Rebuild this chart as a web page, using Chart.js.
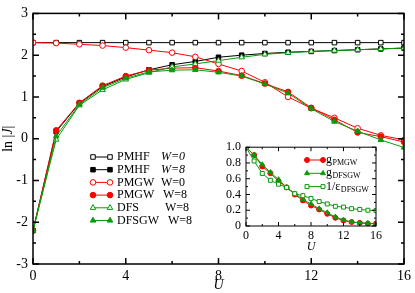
<!DOCTYPE html>
<html>
<head>
<meta charset="utf-8">
<script src="https://cdn.jsdelivr.net/npm/chart.js@4.4.1/dist/chart.umd.min.js"></script>
<style>
  html, body { margin: 0; padding: 0; background: #fff; }
  #wrap { position: relative; width: 415px; height: 293px; overflow: hidden; }
  #main { position: absolute; left: 0; top: 0; }
  #inset { position: absolute; left: 205px; top: 135px; }
</style>
</head>
<body>
<div id="wrap">
  <canvas id="main" width="415" height="293"></canvas>
  <canvas id="inset" width="180" height="120"></canvas>
</div>
<script>
/* ── Data ── */
const U = [0, 1, 2, 3, 4, 5, 6, 7, 8, 9, 10, 11, 12, 13, 14, 15, 16];
const xTicks = [0, 4, 8, 12, 16];
const yTicks = [-3, -2, -1, 0, 1, 2, 3];

const pmhfW0  = [2.30, 2.30, 2.30, 2.30, 2.30, 2.30, 2.30, 2.30, 2.30, 2.30, 2.30, 2.30, 2.30, 2.30, 2.30, 2.30, 2.30];
const pmhfW8  = [-2.2, 0.17, 0.85, 1.25, 1.48, 1.65, 1.77, 1.85, 1.95, 2.00, 2.04, 2.07, 2.09, 2.11, 2.13, 2.15, 2.17];
const pmgwW0  = [2.30, 2.29, 2.26, 2.23, 2.18, 2.12, 2.06, 1.96, 1.79, 1.62, 1.35, 1.00, 0.73, 0.50, 0.25, 0.08, -0.03];
const pmgwW8  = [-2.2, 0.20, 0.86, 1.27, 1.50, 1.64, 1.69, 1.70, 1.62, 1.51, 1.32, 1.12, 0.74, 0.45, 0.15, 0.05, -0.08];
const dfsW8   = [-2.2, -0.02, 0.80, 1.17, 1.42, 1.58, 1.72, 1.79, 1.87, 1.95, 2.02, 2.06, 2.09, 2.11, 2.13, 2.15, 2.17];
const dfsgwW8 = [-2.2, 0.06, 0.82, 1.22, 1.45, 1.60, 1.64, 1.65, 1.59, 1.50, 1.31, 1.09, 0.72, 0.41, 0.18, -0.03, -0.21];

// inset
const insetXTicks = [0, 4, 8, 12, 16];
const insetYTicks = [0, 0.2, 0.4, 0.6, 0.8, 1];
const gPMGW   = [1, 0.90, 0.756, 0.67, 0.57, 0.49, 0.40, 0.325, 0.26, 0.21, 0.155, 0.105, 0.07, 0.05, 0.04, 0.03, 0.03];
const gDFSGW  = [1, 0.90, 0.78, 0.68, 0.59, 0.49, 0.41, 0.34, 0.28, 0.22, 0.17, 0.115, 0.075, 0.05, 0.04, 0.035, 0.03];
const invEps  = [1, 0.825, 0.667, 0.58, 0.53, 0.49, 0.41, 0.385, 0.35, 0.31, 0.28, 0.25, 0.24, 0.22, 0.21, 0.20, 0.195];

const RED = "#ff0000", GREEN = "#0b9a0b", BLACK = "#000000";
const SERIF = "'Liberation Serif', 'DejaVu Serif', serif";

/* ── Helpers ── */
const pts = ys => ys.map((y, i) => ({ x: U[i], y }));

function series(data, color, style, filled, r, order) {
  return {
    data: pts(data), borderColor: color, borderWidth: 1,
    pointStyle: style, pointRadius: r, pointHoverRadius: r,
    pointBorderColor: color, pointBorderWidth: 1,
    pointBackgroundColor: filled ? color : "#fff",
    tension: 0, order,
  };
}

function marker(ctx, ds, x, y) {
  ctx.fillStyle = ds.pointBackgroundColor;
  ctx.strokeStyle = ds.pointBorderColor;
  ctx.lineWidth = 1;
  Chart.helpers.drawPoint(ctx, { pointStyle: ds.pointStyle, radius: ds.pointRadius, borderWidth: 1, rotation: 0 }, x, y);
}

function sample(ctx, ds, x0, x1, y) {
  ctx.strokeStyle = ds.borderColor; ctx.lineWidth = 1;
  ctx.beginPath(); ctx.moveTo(x0, y); ctx.lineTo(x1, y); ctx.stroke();
  marker(ctx, ds, x0, y); marker(ctx, ds, x1, y);
}

// frame + inward ticks on all four sides
const frameTicks = {
  id: "frameTicks",
  beforeDatasetsDraw(chart) {
    const { ctx, chartArea: a } = chart;
    ctx.save(); ctx.fillStyle = "#fff";
    ctx.fillRect(a.left, a.top, a.right - a.left, a.bottom - a.top);
    ctx.restore();
  },
  afterDatasetsDraw(chart, args, o) {
    const { ctx, chartArea: a, scales: { x, y } } = chart;
    ctx.save();
    ctx.strokeStyle = "#000"; ctx.lineWidth = o.lw;
    ctx.beginPath();
    const nx = Math.round((x.max - x.min) / o.xMinor);
    for (let i = 0; i <= nx; i++) {
      const v = x.min + i * o.xMinor;
      const len = Math.abs(v / o.xMajor - Math.round(v / o.xMajor)) < 1e-6 ? o.major : o.minor;
      const px = x.getPixelForValue(v);
      ctx.moveTo(px, a.bottom); ctx.lineTo(px, a.bottom - len);
      ctx.moveTo(px, a.top); ctx.lineTo(px, a.top + len);
    }
    const ny = Math.round((y.max - y.min) / o.yMinor);
    for (let i = 0; i <= ny; i++) {
      const v = y.min + i * o.yMinor;
      const len = Math.abs(v / o.yMajor - Math.round(v / o.yMajor)) < 1e-6 ? o.major : o.minor;
      const py = y.getPixelForValue(v);
      ctx.moveTo(a.left, py); ctx.lineTo(a.left + len, py);
      ctx.moveTo(a.right, py); ctx.lineTo(a.right - len, py);
    }
    ctx.stroke();
    ctx.strokeRect(a.left, a.top, a.right - a.left, a.bottom - a.top);
    ctx.restore();
  },
};

function axis(min, max, ticks, size, pad, fixed) {
  return {
    type: "linear", min, max,
    afterBuildTicks: s => { s.ticks = ticks.map(v => ({ value: v })); },
    afterFit: s => { if (s.isHorizontal()) s.height = fixed; else s.width = fixed; },
    grid: { display: false, drawTicks: false },
    border: { display: false },
    ticks: { color: "#000", padding: pad, font: { family: SERIF, size }, maxRotation: 0, autoSkip: false },
  };
}

/* ── Main chart ── */
const mainDs = [
  series(pmhfW0, BLACK, "rect", false, 3.2, 6),
  series(pmhfW8, BLACK, "rect", true, 3.2, 5),
  series(pmgwW0, RED, "circle", false, 2.8, 4),
  series(pmgwW8, RED, "circle", true, 2.8, 3),
  series(dfsW8, GREEN, "triangle", false, 3.2, 2),
  series(dfsgwW8, GREEN, "triangle", true, 3.2, 1),
];

const mainLegend = [
  ["PMHF", "W=0", 161, true],
  ["PMHF", "W=8", 161, true],
  ["PMGW", "W=0", 161, false],
  ["PMGW", "W=8", 163, false],
  ["DFS", "W=8", 165, false],
  ["DFSGW", "W=8", 168, false],
];

const mainText = {
  id: "mainText",
  afterDraw(chart) {
    const { ctx, chartArea: a } = chart;
    ctx.save();
    // legend
    ctx.textBaseline = "middle";
    mainLegend.forEach((e, i) => {
      const y = 157 + i * 12.7;
      sample(ctx, mainDs[i], 93, 110, y);
      ctx.fillStyle = "#000";
      ctx.font = `12px ${SERIF}`;
      ctx.fillText(e[0], 117, y);
      ctx.font = `${e[3] ? "italic " : ""}12px ${SERIF}`;
      ctx.fillText(e[1], e[2], y);
    });
    // x title
    ctx.fillStyle = "#000";
    ctx.textAlign = "center"; ctx.textBaseline = "middle";
    ctx.font = `italic 14px ${SERIF}`;
    ctx.fillText("U", (a.left + a.right) / 2, 285);
    // y title ln |J|
    ctx.translate(8, (a.top + a.bottom) / 2);
    ctx.rotate(-Math.PI / 2);
    const parts = [["ln |", ""], ["J", "italic "], ["|", ""]];
    let w = 0;
    parts.forEach(p => { ctx.font = `${p[1]}14px ${SERIF}`; w += ctx.measureText(p[0]).width; });
    let x = -w / 2;
    ctx.textAlign = "left";
    parts.forEach(p => { ctx.font = `${p[1]}14px ${SERIF}`; ctx.fillText(p[0], x, 0); x += ctx.measureText(p[0]).width; });
    ctx.restore();
  },
};

new Chart(document.getElementById("main"), {
  type: "line",
  data: { datasets: mainDs },
  options: {
    responsive: false, animation: false, devicePixelRatio: 1,
    layout: { padding: { left: 0, right: 8, top: 5, bottom: 0 } },
    plugins: {
      legend: { display: false }, tooltip: { enabled: false },
      frameTicks: { xMajor: 4, xMinor: 2, yMajor: 1, yMinor: 0.5, major: 6, minor: 3, lw: 1.5 },
    },
    scales: {
      x: axis(0, 16, xTicks, 14, 4, 29),
      y: axis(-3, 3, yTicks, 14, 5, 33),
    },
  },
  plugins: [frameTicks, mainText],
});

/* ── Inset ── */
const insetDs = [
  series(gPMGW, RED, "circle", true, 2.5, 3),
  series(gDFSGW, GREEN, "triangle", true, 2.8, 2),
  series(invEps, GREEN, "rect", false, 2.8, 1),
];

const insetLegend = [["g", "PMGW"], ["g", "DFSGW"], ["1/\u03b5", "DFSGW"]];

const insetText = {
  id: "insetText",
  afterDraw(chart) {
    const { ctx, chartArea: a } = chart;
    ctx.save();
    ctx.textBaseline = "middle";
    insetLegend.forEach((e, i) => {
      const y = 25 + i * 13.3;
      sample(ctx, insetDs[i], 102, 118, y);
      ctx.fillStyle = "#000";
      ctx.font = `12px ${SERIF}`;
      ctx.fillText(e[0], 121, y);
      const w = ctx.measureText(e[0]).width;
      ctx.font = `8px ${SERIF}`;
      ctx.fillText(e[1], 121 + w + 0.5, y + 3);
    });
    ctx.textAlign = "center";
    ctx.font = `italic 12px ${SERIF}`;
    ctx.fillText("U", (a.left + a.right) / 2, 112);
    ctx.restore();
  },
};

new Chart(document.getElementById("inset"), {
  type: "line",
  data: { datasets: insetDs },
  options: {
    responsive: false, animation: false, devicePixelRatio: 1,
    layout: { padding: { left: 0, right: 7, top: 9, bottom: 0 } },
    plugins: {
      legend: { display: false }, tooltip: { enabled: false },
      frameTicks: { xMajor: 4, xMinor: 2, yMajor: 0.2, yMinor: 0.1, major: 4, minor: 2, lw: 1 },
    },
    scales: {
      x: axis(0, 16, insetXTicks, 12, 3, 29),
      y: axis(0, 1, insetYTicks, 12, 5, 41),
    },
  },
  plugins: [frameTicks, insetText],
});
</script>
</body>
</html>
